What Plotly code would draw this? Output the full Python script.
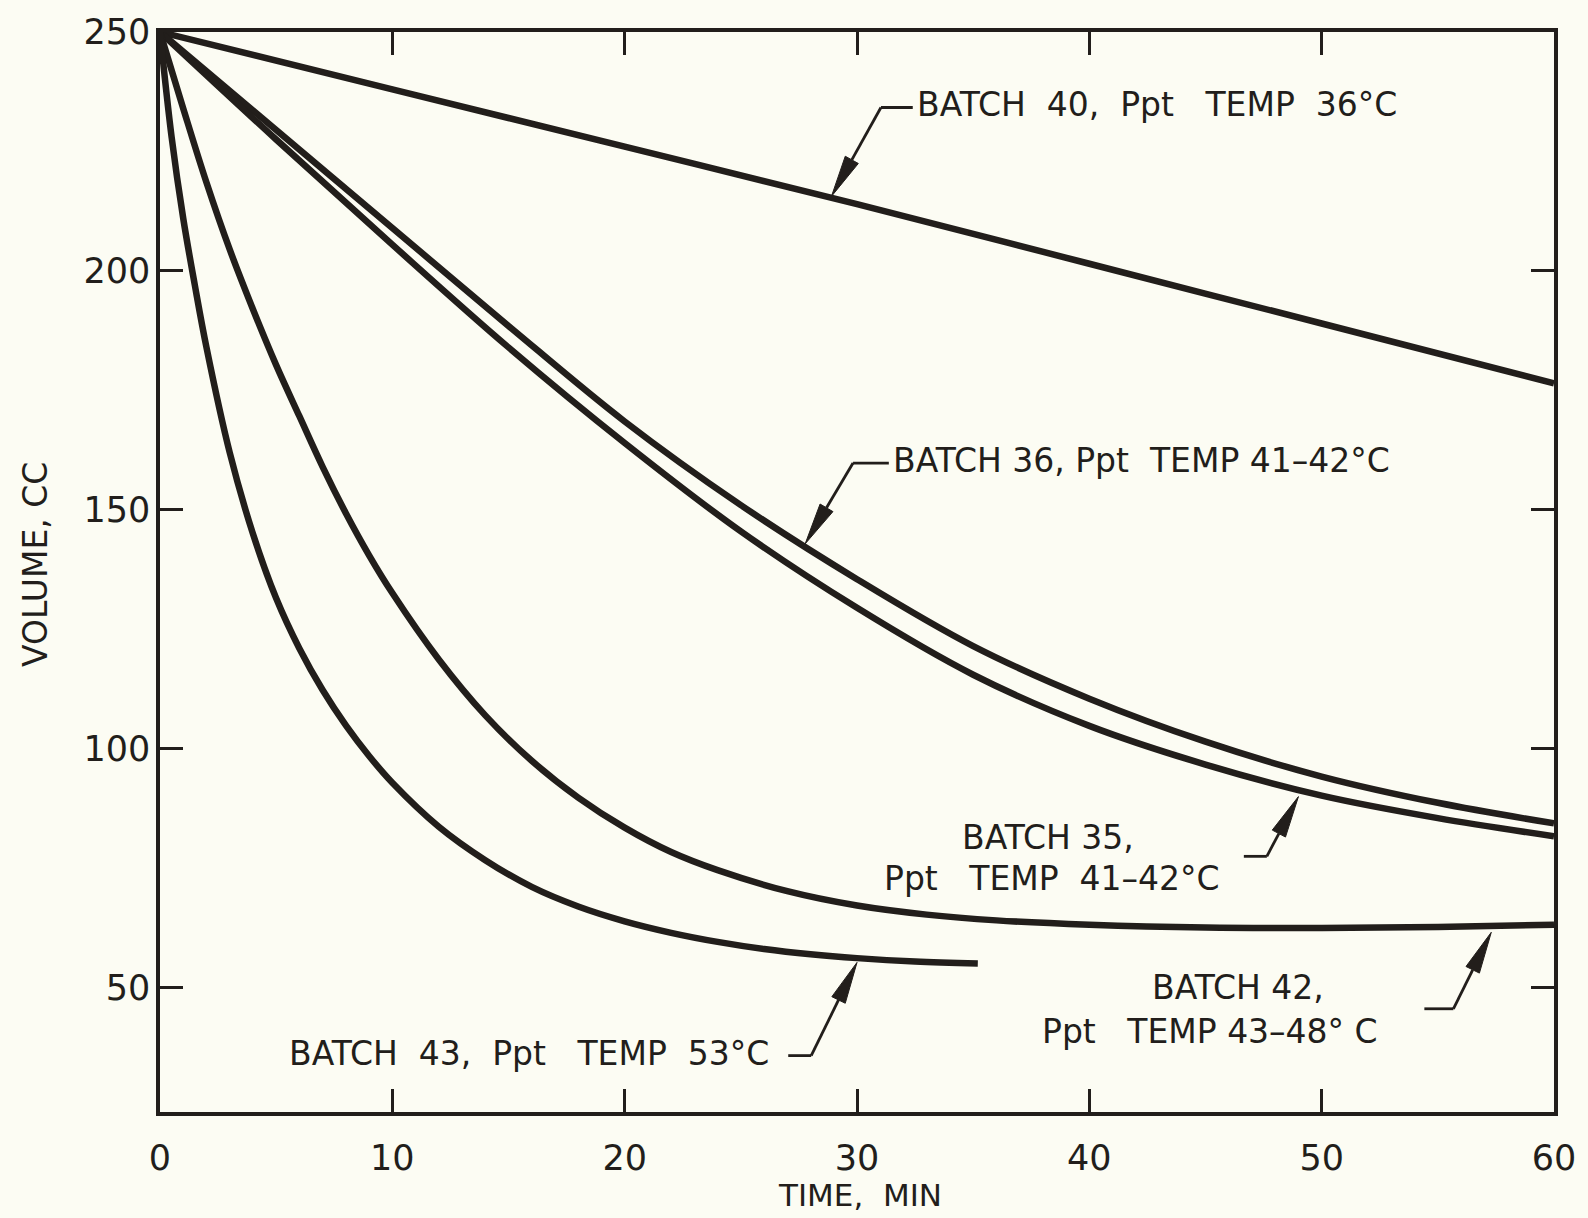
import plotly.graph_objects as go
import math

# ---------------- data ----------------
t40 = [0, 10, 20, 30, 40, 50, 60]
v40 = [250, 238, 226, 214, 201.5, 189, 176.5]

t36 = [0, 5, 10, 15, 20, 25, 30, 35, 40, 45, 50, 55, 60]
v36 = [250, 229.5, 209, 188.5, 168.5, 151, 135.5, 121.5, 110.5, 101.5, 94.2, 88.7, 84.4]

t35 = [0, 5, 10, 15, 20, 25, 30, 35, 40, 45, 50, 55, 60]
v35 = [250, 227.5, 205.5, 184, 164, 145.5, 129.5, 115.5, 104.8, 96.7, 90.2, 85.5, 81.7]

t42 = [0, 1, 2, 3, 4, 5, 6, 7, 8, 9, 10, 12, 14, 16, 18, 20, 22, 24, 27, 30, 33, 36, 40, 45, 50, 55, 60]
v42 = [250, 234, 218.5, 204.5, 192, 180.3, 169.6, 159, 149.3, 140.5, 132.6, 118.7, 107, 97.5, 89.8,
       83.5, 78.4, 74.6, 70.2, 67.2, 65.3, 64.1, 63.2, 62.6, 62.5, 62.7, 63.2]

t43 = [0, 0.5, 1, 1.5, 2, 3, 4, 5, 6, 7, 8, 9, 10, 12, 14, 16, 18, 20, 22, 24, 26, 28, 30, 32.5, 35.2]
v43 = [250, 228, 211, 197, 184, 162, 145, 131.5, 121, 112.3, 104.9, 98.5, 92.9, 83.7, 76.7, 71.1,
       67.0, 63.9, 61.5, 59.6, 58.1, 57.0, 56.2, 55.5, 55.1]

x_ticks = [0, 10, 20, 30, 40, 50, 60]
x_tick_labels = ["0", "10", "20", "30", "40", "50", "60"]
y_ticks = [50, 100, 150, 200, 250]
y_tick_labels = ["50", "100", "150", "200", "250"]

NB = "\u00a0"
labels = [
    dict(text="BATCH" + NB * 2 + "40," + NB * 2 + "Ppt" + NB * 3 + "TEMP" + NB * 2 + "36°C",
         t=32.5, v=234.8, anchor="left"),
    dict(text="BATCH 36, Ppt" + NB * 2 + "TEMP 41–42°C", t=31.45, v=160.4, anchor="left"),
    dict(text="BATCH 35,", t=38.2, v=81.5, anchor="center"),
    dict(text="Ppt" + NB * 3 + "TEMP" + NB * 2 + "41–42°C", t=38.4, v=72.9, anchor="center"),
    dict(text="BATCH 42,", t=46.4, v=50.0, anchor="center"),
    dict(text="Ppt" + NB * 3 + "TEMP" + NB + "43–48° C", t=45.2, v=40.8, anchor="center"),
    dict(text="BATCH" + NB * 2 + "43," + NB * 2 + "Ppt" + NB * 3 + "TEMP" + NB * 2 + "53°C",
         t=15.9, v=36.25, anchor="center"),
]

# leaders: tip (on curve), bend, end of horizontal segment
leaders = [
    dict(tip=(28.9, 215.6), bend=(31.03, 234.2), hend=32.4),
    dict(tip=(27.77, 142.9), bend=(29.83, 159.8), hend=31.37),
    dict(tip=(49.0, 90.0), bend=(47.64, 77.5), hend=46.65),
    dict(tip=(57.3, 61.6), bend=(55.67, 45.6), hend=54.42),
    dict(tip=(30.0, 55.3), bend=(28.03, 35.8), hend=27.04),
]

# ---------------- layout geometry ----------------
W, H = 1588, 1218
ML, MR, MT, MB = 160, 30, 27, 106
XR = [0, 60]
YR = [24, 250]
pw = W - ML - MR
ph = H - MT - MB
sx = pw / (XR[1] - XR[0])
sy = ph / (YR[1] - YR[0])

INK = "#221e1b"
PAPER = "#fcfcf3"
FONT = "DejaVu Sans"

fig = go.Figure()
for t, v in [(t40, v40), (t36, v36), (t35, v35), (t42, v42), (t43, v43)]:
    fig.add_trace(go.Scatter(x=t, y=v, mode="lines",
                             line=dict(color=INK, width=6.5, shape="spline", smoothing=1.0),
                             showlegend=False, hoverinfo="skip"))

shapes = []
for ld in leaders:
    (xt, yt), (xb, yb) = ld["tip"], ld["bend"]
    shapes.append(dict(type="line", xref="x", yref="y", x0=ld["hend"], y0=yb, x1=xb, y1=yb,
                       line=dict(color=INK, width=2.8)))
    dxp = (xt - xb) * sx
    dyp = -(yt - yb) * sy
    L = math.hypot(dxp, dyp)
    ux, uy = dxp / L, dyp / L
    head, half = 42, 7.5
    bx_p, by_p = -ux * head, -uy * head

    def to_data(ox, oy):
        return xt + ox / sx, yt - oy / sy

    bx, by = to_data(bx_p, by_p)
    shapes.append(dict(type="line", xref="x", yref="y", x0=xb, y0=yb, x1=bx, y1=by,
                       line=dict(color=INK, width=2.8)))
    p1 = to_data(bx_p - uy * half, by_p + ux * half)
    p2 = to_data(bx_p + uy * half, by_p - ux * half)
    path = f"M {xt},{yt} L {p1[0]},{p1[1]} L {p2[0]},{p2[1]} Z"
    shapes.append(dict(type="path", xref="x", yref="y", path=path,
                       fillcolor=INK, line=dict(color=INK, width=1)))

annotations = []
for lb in labels:
    annotations.append(dict(x=lb["t"], y=lb["v"], xref="x", yref="y", text=lb["text"],
                            showarrow=False, xanchor=lb["anchor"], yanchor="middle",
                            font=dict(family=FONT, size=33, color=INK)))

annotations.append(dict(x=(862 - ML) / pw, y=(H - MB - 1195) / ph, xref="paper", yref="paper",
                        text="TIME," + NB * 2 + "MIN", showarrow=False, xanchor="center", yanchor="middle",
                        font=dict(family=FONT, size=31, color=INK)))
annotations.append(dict(x=(35 - ML) / pw, y=(H - MB - 562) / ph, xref="paper", yref="paper",
                        text="VOLUME," + NB + "CC", showarrow=False, textangle=-90,
                        xanchor="center", yanchor="middle",
                        font=dict(family=FONT, size=33, color=INK)))

axis_common = dict(showline=True, linecolor=INK, linewidth=3.5, mirror="ticks",
                   ticks="inside", ticklen=23, tickwidth=2.5, tickcolor=INK,
                   showgrid=False, zeroline=False,
                   tickfont=dict(family=FONT, size=35, color=INK))

fig.update_layout(
    width=W, height=H,
    margin=dict(l=ML, r=MR, t=MT, b=MB, pad=0),
    paper_bgcolor=PAPER, plot_bgcolor=PAPER,
    xaxis=dict(range=XR, tickvals=x_ticks, ticktext=x_tick_labels,
               ticklabelstandoff=12, **axis_common),
    yaxis=dict(range=YR, tickvals=y_ticks, ticktext=y_tick_labels,
               ticklabelstandoff=-1, **axis_common),
    shapes=shapes,
    annotations=annotations,
)

fig.write_html("out.html")
